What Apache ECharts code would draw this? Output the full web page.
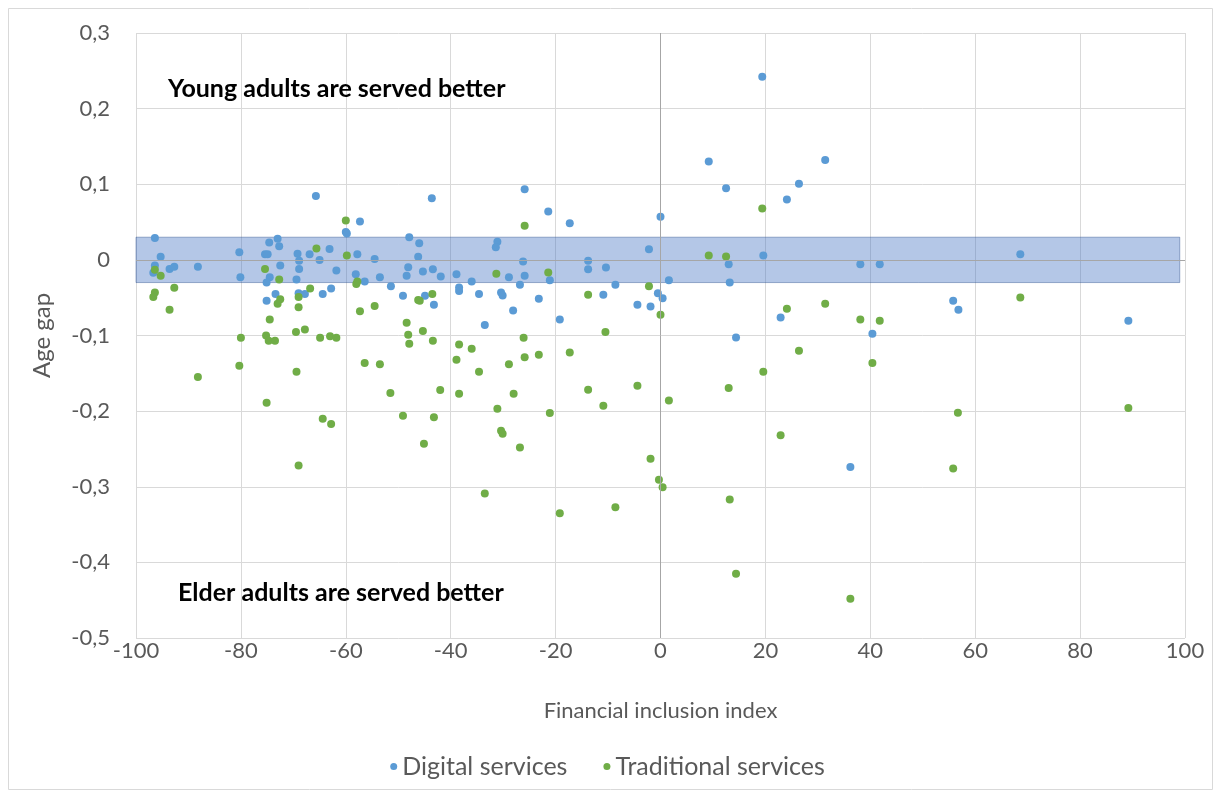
<!DOCTYPE html>
<html>
<head>
<meta charset="utf-8">
<script src="https://cdn.jsdelivr.net/npm/echarts@6/dist/echarts.min.js"></script>
<style>
html,body{margin:0;padding:0;background:#fff;}
#chart{width:1215px;height:794px;}
</style>
</head>
<body>
<div id="chart"></div>
<script>
// ---- data ----
const seriesNames = ["Digital services", "Traditional services"];
const digitalX = [-96.4,-95.3,-96.4,-96.7,-93.6,-92.7,-88.2,-80.3,-80.1,-74.6,-73.0,-72.7,-75.4,-74.9,-72.5,-74.5,-75.1,-73.4,-75.1,-69.2,-68.9,-68.9,-69.4,-66.9,-65.0,-63.1,-61.8,-62.8,-64.4,-69.0,-67.8,-65.7,-43.6,-57.3,-60.0,-59.8,-47.9,-46.0,-46.2,-57.8,-54.5,-48.1,-48.4,-45.3,-43.4,-41.9,-58.1,-56.4,-53.5,-51.4,-38.9,-36.0,-38.4,-38.4,-34.6,-31.1,-31.4,-28.9,-26.2,-25.9,-26.8,-30.4,-30.1,-28.1,-33.5,-25.9,-49.1,-44.9,-43.2,9.2,-21.4,-17.3,0.0,-2.2,-21.1,-13.8,-13.8,-10.4,-8.6,1.6,-23.2,-10.9,-0.5,0.4,-4.4,-1.9,-19.2,19.4,31.4,26.4,12.5,24.1,13.0,19.6,38.1,41.8,13.2,22.9,40.4,14.4,36.2,68.6,55.8,56.8,89.2];
const digitalY = [0.029,0.004,-0.0075,-0.017,-0.012,-0.009,-0.009,0.010,-0.023,0.023,0.028,0.018,0.0075,0.0075,-0.0075,-0.023,-0.030,-0.045,-0.054,0.008,-0.001,-0.012,-0.026,0.0075,0.0,0.0145,-0.014,-0.038,-0.045,-0.044,-0.045,0.0845,0.0815,0.0506,0.037,0.035,0.030,0.022,0.004,0.0075,0.001,-0.0097,-0.021,-0.0154,-0.0123,-0.022,-0.019,-0.0286,-0.023,-0.035,-0.019,-0.0286,-0.0366,-0.041,-0.045,0.024,0.0167,-0.023,-0.002,-0.021,-0.033,-0.043,-0.047,-0.067,-0.086,0.0934,-0.0476,-0.0476,-0.0594,0.130,0.064,0.0485,0.057,0.014,-0.027,-0.001,-0.0123,-0.010,-0.033,-0.027,-0.0515,-0.046,-0.044,-0.0506,-0.0594,-0.0617,-0.079,0.242,0.132,0.1008,0.0947,0.0797,-0.0057,0.0057,-0.0057,-0.0057,-0.030,-0.0762,-0.0977,-0.1026,-0.274,0.0075,-0.054,-0.066,-0.0806];
const traditionalX = [-96.4,-95.3,-92.7,-96.4,-96.7,-93.6,-75.4,-72.7,-72.5,-73.0,-74.5,-65.6,-69.0,-69.0,-66.8,-69.5,-67.8,-64.9,-63.0,-75.2,-74.7,-73.5,-80.0,-61.8,-88.2,-80.3,-69.4,-75.1,-64.4,-62.8,-69.0,-60.0,-59.8,-58.0,-57.8,-43.5,-46.2,-45.9,-54.5,-57.3,-48.4,-48.1,-47.9,-45.3,-43.4,-38.4,-36.0,-38.9,-56.4,-53.5,-34.6,-51.5,-42.0,-38.4,-49.1,-43.2,-45.1,-33.5,-31.3,-25.9,-26.1,-25.9,-28.9,-28.0,-31.1,-30.4,-30.1,-26.8,9.2,-21.4,-2.2,-13.8,0.0,-10.5,-23.2,-17.3,-13.8,-4.4,-10.9,1.6,-21.1,-1.9,-0.3,0.4,-8.6,-19.2,19.4,12.5,24.1,31.4,38.1,41.8,26.4,40.4,19.6,13.0,22.9,13.2,14.4,36.2,68.6,56.7,89.2,55.8];
const traditionalY = [-0.013,-0.021,-0.037,-0.043,-0.049,-0.066,-0.012,-0.026,-0.052,-0.058,-0.079,0.015,-0.049,-0.0625,-0.038,-0.0955,-0.092,-0.103,-0.101,-0.100,-0.107,-0.107,-0.103,-0.103,-0.155,-0.140,-0.148,-0.189,-0.210,-0.217,-0.272,0.052,0.0057,-0.032,-0.0286,-0.045,-0.053,-0.054,-0.061,-0.068,-0.083,-0.099,-0.111,-0.094,-0.107,-0.112,-0.1176,-0.132,-0.1365,-0.138,-0.148,-0.176,-0.172,-0.177,-0.206,-0.208,-0.243,-0.309,-0.0185,0.045,-0.103,-0.1286,-0.138,-0.177,-0.197,-0.226,-0.230,-0.248,0.0057,-0.0167,-0.035,-0.046,-0.0727,-0.0955,-0.1255,-0.1224,-0.1717,-0.1665,-0.193,-0.186,-0.2025,-0.263,-0.2906,-0.3008,-0.327,-0.335,0.068,0.0044,-0.0647,-0.058,-0.079,-0.0806,-0.120,-0.1365,-0.148,-0.1695,-0.232,-0.317,-0.415,-0.448,-0.0498,-0.202,-0.196,-0.276];
const bandRange = {x0: -100, x1: 99, y0: -0.03, y1: 0.03};
const annotations = ["Young adults are served better", "Elder adults are served better"];
const xAxisName = "Financial inclusion index";
const yAxisName = "Age gap";

const zip = (xs, ys) => xs.map((x, i) => [x, ys[i]]);
const FONT = 'Lato';
const chart = echarts.init(document.getElementById('chart'), null, {renderer: 'canvas'});
chart.setOption({
  animation: false,
  backgroundColor: '#fff',
  textStyle: {fontFamily: FONT},
  grid: {left: 136, top: 33, right: 30, bottom: 156, containLabel: false},
  xAxis: {
    type: 'value', min: -100, max: 100, interval: 20,
    axisLine: {show: false}, axisTick: {show: false},
    axisLabel: {color: '#595959', fontSize: 22, fontFamily: FONT, margin: 2},
    splitLine: {show: true, lineStyle: {color: '#d9d9d9', width: 1}},
    name: xAxisName, nameLocation: 'middle', nameGap: 62,
    nameTextStyle: {color: '#595959', fontSize: 22, fontFamily: FONT}
  },
  yAxis: {
    type: 'value', min: -0.5, max: 0.3, interval: 0.1,
    axisLine: {show: false}, axisTick: {show: false},
    axisLabel: {color: '#595959', fontSize: 22, fontFamily: FONT, margin: 26,
      formatter: v => (Math.abs(v) < 1e-9 ? '0' : v.toFixed(1).replace('.', ','))},
    splitLine: {show: true, lineStyle: {color: '#d9d9d9', width: 1}},
    name: yAxisName, nameLocation: 'middle', nameGap: 82, nameRotate: 90,
    nameTextStyle: {color: '#595959', fontSize: 24, fontFamily: FONT}
  },
  legend: {
    data: seriesNames, bottom: 10, left: 'center',
    icon: 'circle', itemWidth: 7, itemHeight: 7, itemGap: 36,
    textStyle: {color: '#595959', fontSize: 25, fontFamily: FONT}
  },
  graphic: [
    {type: 'rect', shape: {x: 8.5, y: 8.5, width: 1204, height: 781}, style: {fill: 'none', stroke: '#d9d9d9', lineWidth: 1}, z: -10, silent: true},
    {type: 'text', left: 168, top: 76, z: 100, style: {text: annotations[0], fill: '#000', font: 'bold 25px Lato'}},
    {type: 'text', left: 178, top: 580, z: 100, style: {text: annotations[1], fill: '#000', font: 'bold 25px Lato'}}
  ],
  series: [
    {
      name: 'zero', type: 'scatter', data: [], z: 1, silent: true,
      markLine: {
        silent: true, symbol: ['none', 'none'], label: {show: false},
        lineStyle: {color: '#a6a6a6', width: 1, type: 'solid'},
        data: [{yAxis: 0}, {xAxis: 0}]
      }
    },
    {
      name: seriesNames[0], type: 'scatter', z: 2,
      symbol: 'circle', symbolSize: 8,
      itemStyle: {color: '#5b9bd5', opacity: 1},
      data: zip(digitalX, digitalY)
    },
    {
      name: seriesNames[1], type: 'scatter', z: 2,
      symbol: 'circle', symbolSize: 8,
      itemStyle: {color: '#70ad47', opacity: 1},
      data: zip(traditionalX, traditionalY)
    },
    {
      name: 'band', type: 'scatter', data: [], z: 5, silent: true,
      markArea: {
        silent: true,
        itemStyle: {color: 'rgba(68,114,196,0.4)', borderColor: 'rgba(47,82,143,0.45)', borderWidth: 1},
        data: [[{xAxis: bandRange.x0, yAxis: bandRange.y1}, {xAxis: bandRange.x1, yAxis: bandRange.y0}]]
      }
    }
  ]
});
</script>
</body>
</html>
